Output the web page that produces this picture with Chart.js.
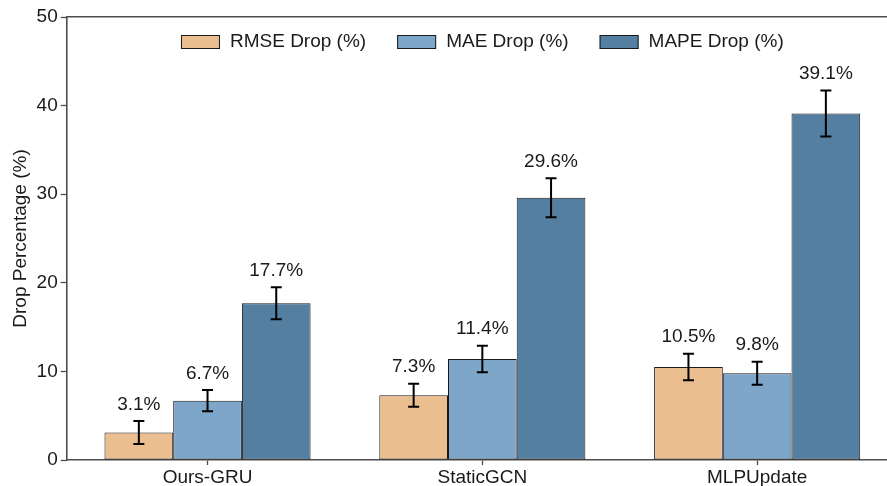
<!DOCTYPE html>
<html>
<head>
<meta charset="utf-8">
<script src="https://cdn.jsdelivr.net/npm/chart.js@4.4.1/dist/chart.umd.min.js"></script>
<style>
  html, body { margin: 0; padding: 0; background: #fff; overflow: hidden; }
  canvas { display: block; }
</style>
</head>
<body>
<canvas id="chart" width="898" height="486"></canvas>
<script>
// Methods compared and the three error metrics
const categories = ['Ours-GRU', 'StaticGCN', 'MLPUpdate'];
const seriesNames = ['RMSE Drop (%)', 'MAE Drop (%)', 'MAPE Drop (%)'];

// Mean drop per method (%)
const rmseDrop = [3.1, 7.3, 10.5];
const maeDrop  = [6.7, 11.4, 9.8];
const mapeDrop = [17.7, 29.6, 39.1];

// Error bar half-lengths (%)
const rmseErr = [1.3, 1.3, 1.5];
const maeErr  = [1.2, 1.5, 1.3];
const mapeErr = [1.8, 2.2, 2.6];

// Y axis ticks
const yTicks = [0, 10, 20, 30, 40, 50];

const seriesValues = [rmseDrop, maeDrop, mapeDrop];
const seriesErrors = [rmseErr, maeErr, mapeErr];
const seriesColors = ['#ebbe90', '#7ea6c8', '#547fa1'];

const FONT_FAMILY = '"Liberation Sans", Arial, Helvetica, sans-serif';
const FONT_SIZE = 19;
const TEXT_COLOR = '#1a1a1a';
const AXIS_COLOR = '#4d4d4d';
const EDGE_COLOR = '#1a1a1a';

const datasets = seriesNames.map((name, s) => ({
  label: name,
  data: seriesValues[s].map((v, i) => ({ x: i, y: v })),
  errors: seriesErrors[s],
  backgroundColor: seriesColors[s],
  borderColor: EDGE_COLOR,
  borderWidth: 1,
  borderSkipped: false,
  categoryPercentage: 0.75,
  barPercentage: 1.0
}));

// Error bars and value labels on top of each bar
const errorBarPlugin = {
  id: 'errorBars',
  afterDatasetsDraw(chart) {
    const ctx = chart.ctx;
    const yScale = chart.scales.y;
    ctx.save();
    chart.data.datasets.forEach((ds, s) => {
      const meta = chart.getDatasetMeta(s);
      meta.data.forEach((bar, i) => {
        const v = ds.data[i].y;
        const e = ds.errors[i];
        const x = bar.x;
        const yTop = yScale.getPixelForValue(v + e);
        const yBot = yScale.getPixelForValue(v - e);
        ctx.strokeStyle = '#000';
        ctx.lineWidth = 2;
        ctx.beginPath();
        ctx.moveTo(x, yTop); ctx.lineTo(x, yBot);
        ctx.moveTo(x - 5.5, yTop); ctx.lineTo(x + 5.5, yTop);
        ctx.moveTo(x - 5.5, yBot); ctx.lineTo(x + 5.5, yBot);
        ctx.stroke();

        ctx.fillStyle = TEXT_COLOR;
        ctx.font = FONT_SIZE + 'px ' + FONT_FAMILY;
        ctx.textAlign = 'center';
        ctx.textBaseline = 'alphabetic';
        ctx.fillText(v.toFixed(1) + '%', x, yTop - 11.5);
      });
    });
    ctx.restore();
  }
};

// Legend laid out in a single row inside the plot, near its top edge
const inlineLegendPlugin = {
  id: 'inlineLegend',
  afterDraw(chart) {
    const ctx = chart.ctx;
    const area = chart.chartArea;
    const boxW = 39, boxH = 14, boxGap = 10, itemGap = 31;
    ctx.save();
    ctx.font = FONT_SIZE + 'px ' + FONT_FAMILY;
    const widths = chart.data.datasets.map(ds => ctx.measureText(ds.label).width);
    const total = widths.reduce((a, w) => a + boxW + boxGap + w, 0) + itemGap * (widths.length - 1);
    let x = (area.left + area.right) / 2 - total / 2;
    const boxTop = area.top + 18;
    const baseline = area.top + 30.3;
    chart.data.datasets.forEach((ds, s) => {
      ctx.fillStyle = ds.backgroundColor;
      ctx.fillRect(x, boxTop, boxW, boxH);
      ctx.strokeStyle = EDGE_COLOR;
      ctx.lineWidth = 1;
      ctx.strokeRect(x + 0.5, boxTop + 0.5, boxW - 1, boxH - 1);
      ctx.fillStyle = TEXT_COLOR;
      ctx.textAlign = 'left';
      ctx.textBaseline = 'alphabetic';
      ctx.fillText(ds.label, x + boxW + boxGap, baseline);
      x += boxW + boxGap + widths[s] + itemGap;
    });
    ctx.restore();
  }
};

const tickFont = { family: FONT_FAMILY, size: FONT_SIZE };

new Chart(document.getElementById('chart'), {
  type: 'bar',
  data: { datasets },
  options: {
    responsive: false,
    animation: false,
    devicePixelRatio: 1,
    layout: { padding: { top: 17, left: 0, right: 0, bottom: 0 } },
    plugins: {
      legend: { display: false },
      tooltip: { enabled: false }
    },
    scales: {
      x: {
        type: 'linear',
        position: 'bottom',
        min: -0.5125,
        max: 2.5125,
        offset: false,
        afterBuildTicks: axis => { axis.ticks = categories.map((_, i) => ({ value: i })); },
        afterFit: axis => { axis.height = 26; },
        ticks: {
          callback: v => categories[v],
          font: tickFont,
          color: TEXT_COLOR,
          padding: 1,
          autoSkip: false,
          maxRotation: 0
        },
        grid: { offset: false, drawOnChartArea: false, drawTicks: true, tickLength: 5, tickColor: AXIS_COLOR, tickWidth: 1.3 },
        border: { display: true, color: AXIS_COLOR, width: 1.6 }
      },
      xTop: {
        type: 'linear',
        position: 'top',
        min: -0.5125,
        max: 2.5125,
        afterFit: axis => { axis.height = 0; },
        ticks: { display: false },
        grid: { offset: false, drawOnChartArea: false, drawTicks: false },
        border: { display: true, color: AXIS_COLOR, width: 1.6 }
      },
      y: {
        min: 0,
        max: 50,
        afterBuildTicks: axis => { axis.ticks = yTicks.map(v => ({ value: v })); },
        afterFit: axis => { axis.width = 66.7; },
        ticks: { font: tickFont, color: TEXT_COLOR, padding: 3 },
        grid: { drawOnChartArea: false, drawTicks: true, tickLength: 6, tickColor: AXIS_COLOR, tickWidth: 1.3 },
        border: { display: true, color: AXIS_COLOR, width: 1.6 },
        title: {
          display: true,
          text: 'Drop Percentage (%)',
          font: tickFont,
          color: TEXT_COLOR,
          padding: { top: 9.5, bottom: 0 }
        }
      }
    }
  },
  plugins: [errorBarPlugin, inlineLegendPlugin]
});
</script>
</body>
</html>
